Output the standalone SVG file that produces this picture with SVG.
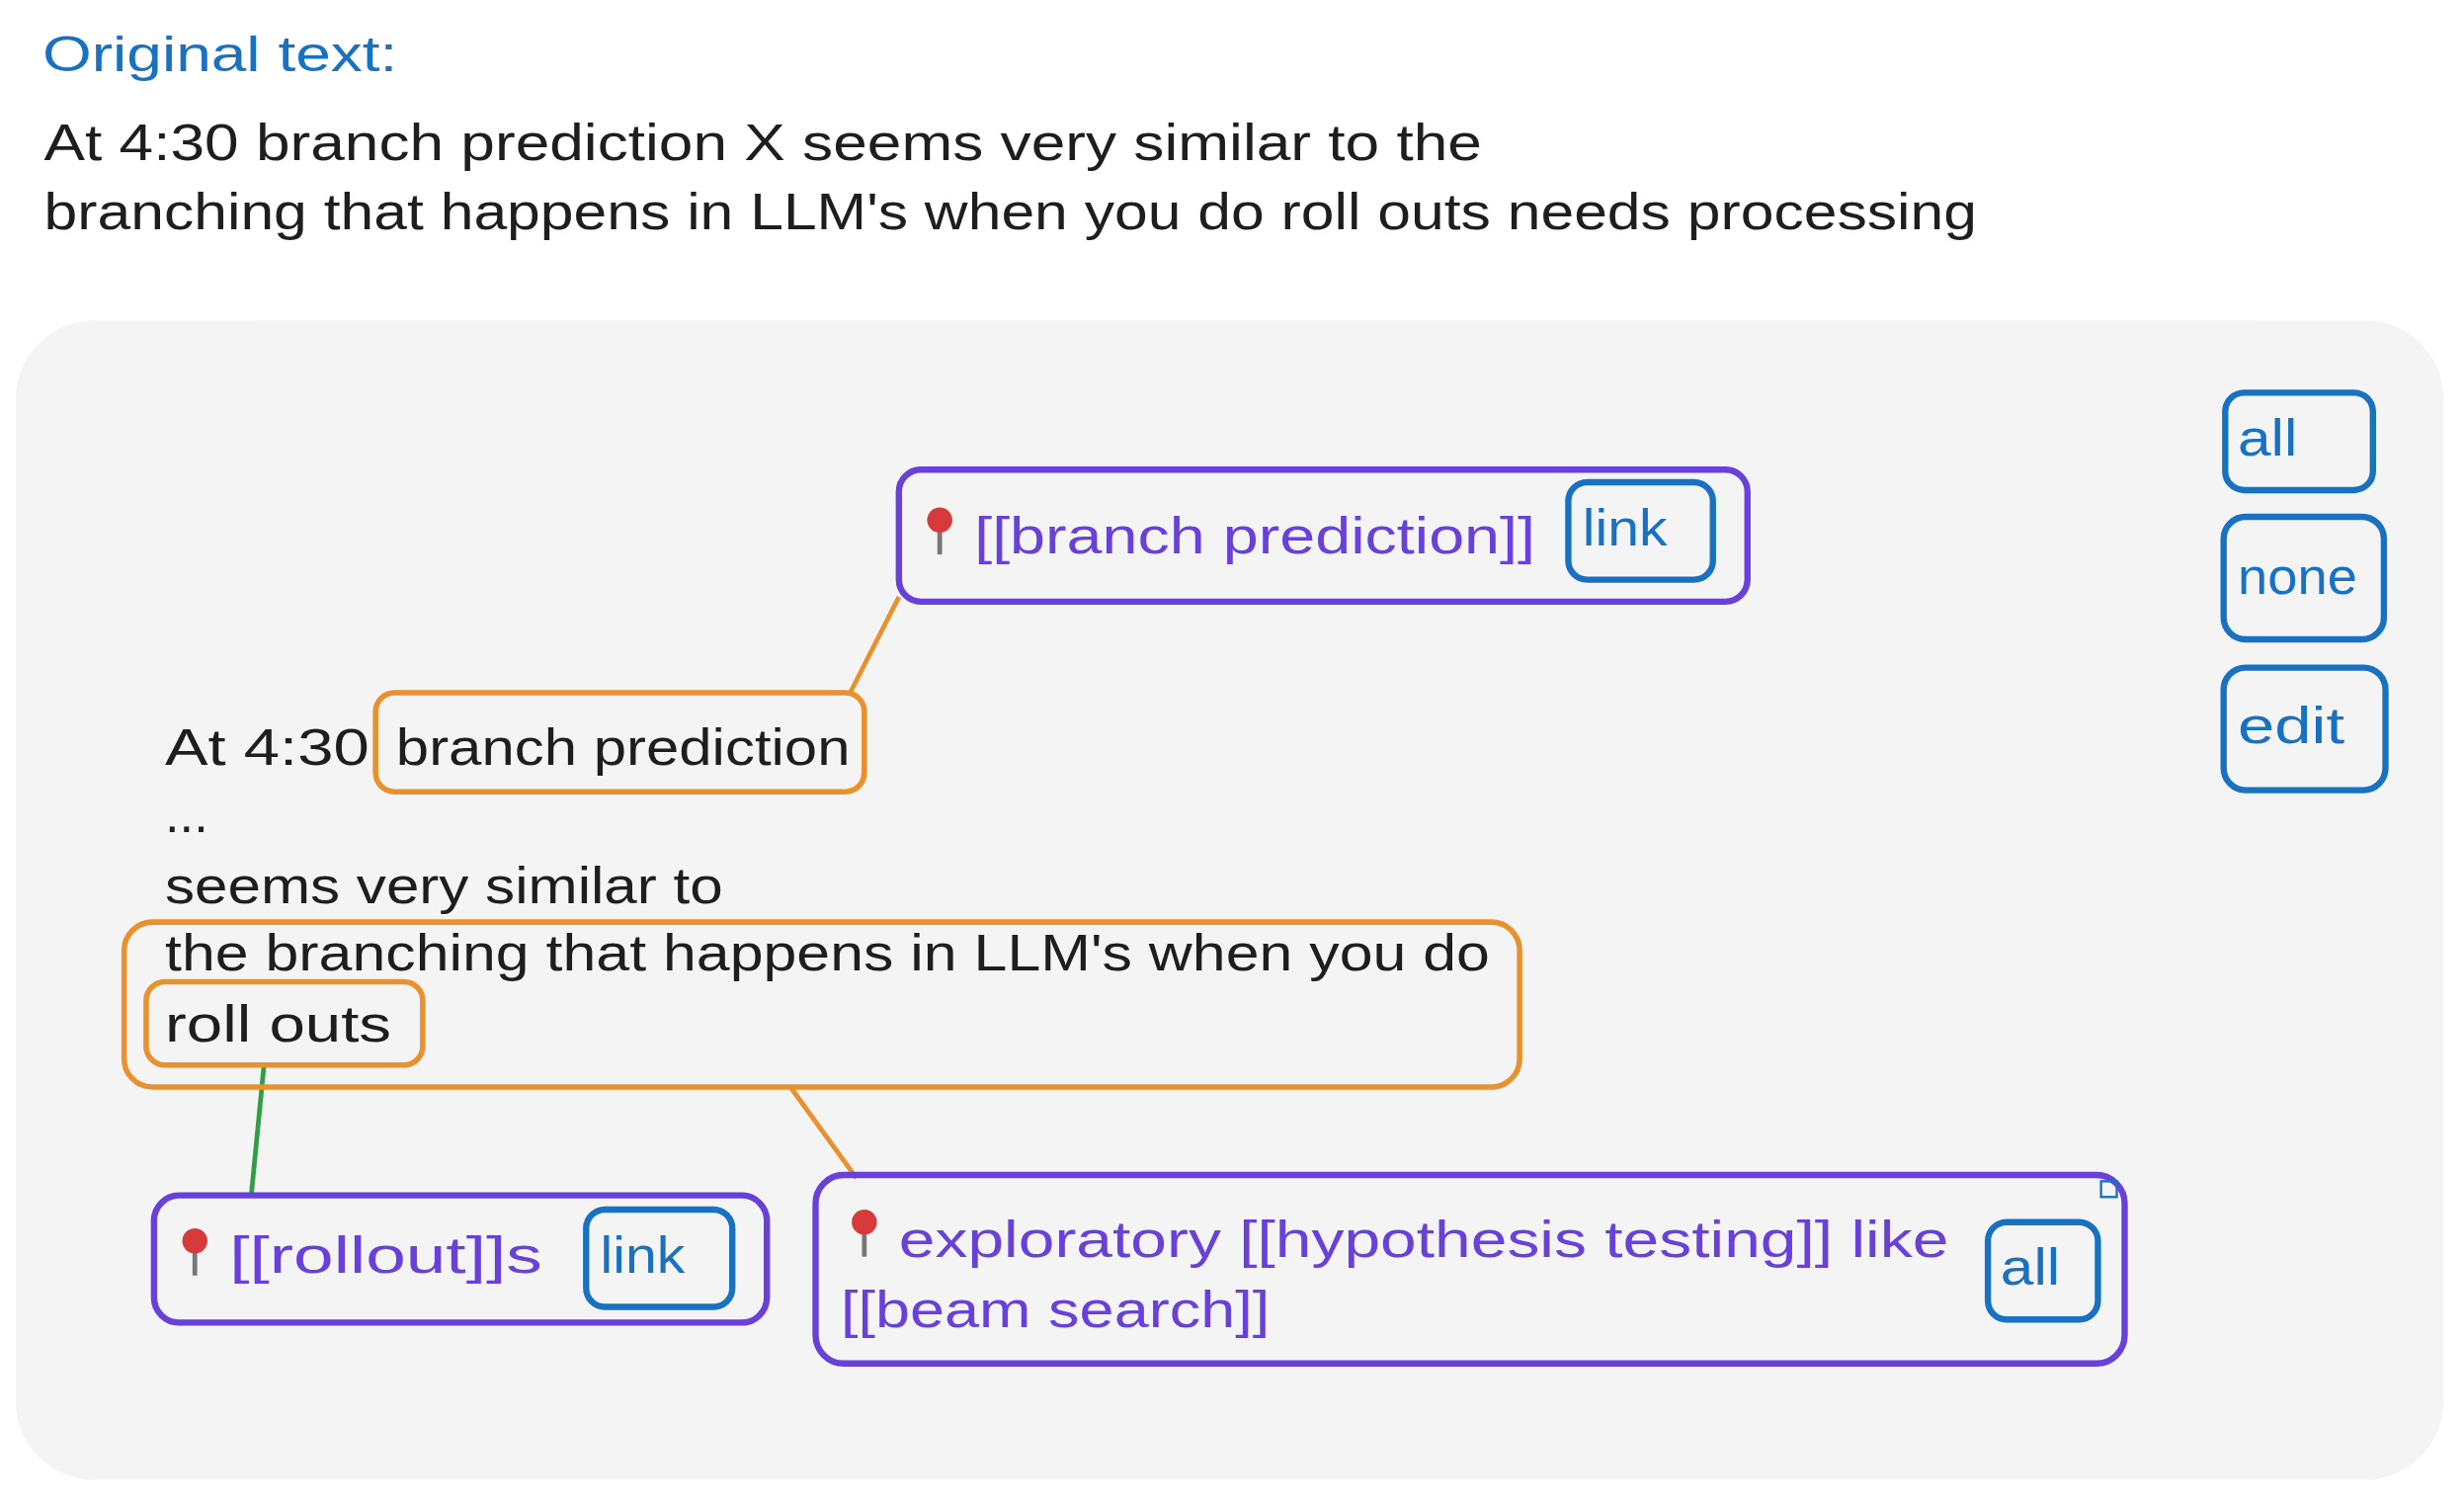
<svg xmlns="http://www.w3.org/2000/svg" width="2494" height="1526" viewBox="0 0 2494 1526">
<defs>
<style>
text{font-family:"Liberation Sans",Arial,sans-serif;font-size:33px}
.b{fill:#1e1e1e}.p{fill:#6741d9}.bl{fill:#1971c2}
.pn{fill:none;stroke:#6741d9;stroke-width:4}
.bb{fill:none;stroke:#1971c2;stroke-width:4}
.ob{fill:none;stroke:#e8912d;stroke-width:3.5}
</style>
<g id="pin"><line x1="0" y1="0" x2="0" y2="20" stroke="#777" stroke-width="3"/><circle cx="0" cy="-2" r="8" fill="#d63a3a"/></g>
</defs>
<rect width="2494" height="1526" fill="#fff"/>
<g transform="scale(1.5906,1.5896)">
<text x="27" y="45" class="bl" style="font-size:31px" textLength="226" lengthAdjust="spacingAndGlyphs">Original text:</text>
<text x="28" y="102" class="b" textLength="915" lengthAdjust="spacingAndGlyphs">At 4:30 branch prediction X seems very similar to the</text>
<text x="28" y="146" class="b" textLength="1230" lengthAdjust="spacingAndGlyphs">branching that happens in LLM's when you do roll outs needs processing</text>
<rect x="10" y="204" width="1545" height="738" rx="50" fill="#f4f4f4"/>
<g id="connectors" fill="none" stroke-width="3">
<line x1="541" y1="441" x2="572" y2="380" stroke="#e8912d"/>
<line x1="168" y1="678" x2="160" y2="760" stroke="#2f9e44"/>
<line x1="503" y1="692" x2="545" y2="750" stroke="#e8912d"/>
</g>
<g id="btn-all"><rect x="1416" y="250" width="94" height="62" rx="12" class="bb"/><text x="1424" y="290" class="bl" textLength="38" lengthAdjust="spacingAndGlyphs">all</text></g>
<g id="btn-none"><rect x="1415" y="329" width="102" height="78" rx="14" class="bb"/><text x="1424" y="378" class="bl" textLength="76" lengthAdjust="spacingAndGlyphs">none</text></g>
<g id="btn-edit"><rect x="1415" y="425" width="103" height="78" rx="14" class="bb"/><text x="1424" y="473" class="bl" textLength="68" lengthAdjust="spacingAndGlyphs">edit</text></g>
<g id="node-branch"><rect x="572" y="299" width="540" height="84" rx="14" class="pn"/><use href="#pin" x="598" y="333"/><text x="620" y="352" class="p" textLength="357" lengthAdjust="spacingAndGlyphs">[[branch prediction]]</text><rect x="998" y="307" width="92" height="62" rx="12" class="bb"/><text x="1007" y="347" class="bl" textLength="54" lengthAdjust="spacingAndGlyphs">link</text></g>
<g id="source">
<text x="105" y="487" class="b" textLength="130" lengthAdjust="spacingAndGlyphs">At 4:30</text>
<rect x="239" y="441" width="311" height="63" rx="12" class="ob"/><text x="252" y="487" class="b" textLength="289" lengthAdjust="spacingAndGlyphs">branch prediction</text>
<text x="105" y="530" class="b">...</text>
<text x="105" y="575" class="b" textLength="355" lengthAdjust="spacingAndGlyphs">seems very similar to</text>
<rect x="79" y="587" width="888" height="105" rx="18" class="ob"/>
<text x="105" y="618" class="b" textLength="843" lengthAdjust="spacingAndGlyphs">the branching that happens in LLM's when you do</text>
<rect x="93" y="625" width="176" height="53" rx="12" class="ob"/><text x="105" y="663" class="b" textLength="144" lengthAdjust="spacingAndGlyphs">roll outs</text>
</g>
<g id="node-rollout"><rect x="98" y="761" width="390" height="81" rx="16" class="pn"/><use href="#pin" x="124" y="792"/><text x="146" y="810" class="p" textLength="199" lengthAdjust="spacingAndGlyphs">[[rollout]]s</text><rect x="373" y="770" width="93" height="62" rx="12" class="bb"/><text x="382" y="810" class="bl" textLength="54" lengthAdjust="spacingAndGlyphs">link</text></g>
<g id="node-exploratory"><rect x="519" y="748" width="833" height="120" rx="18" class="pn"/><use href="#pin" x="550" y="780"/><text x="572" y="800" class="p" textLength="668" lengthAdjust="spacingAndGlyphs">exploratory [[hypothesis testing]] like</text><text x="535" y="845" class="p" textLength="273" lengthAdjust="spacingAndGlyphs">[[beam search]]</text><rect x="1265" y="778" width="70" height="62" rx="12" class="bb"/><text x="1273" y="818" class="bl" textLength="38" lengthAdjust="spacingAndGlyphs">all</text><rect x="1337" y="752" width="10" height="10" fill="none" stroke="#1971c2" stroke-width="1.5"/></g>
</g>
</svg>
